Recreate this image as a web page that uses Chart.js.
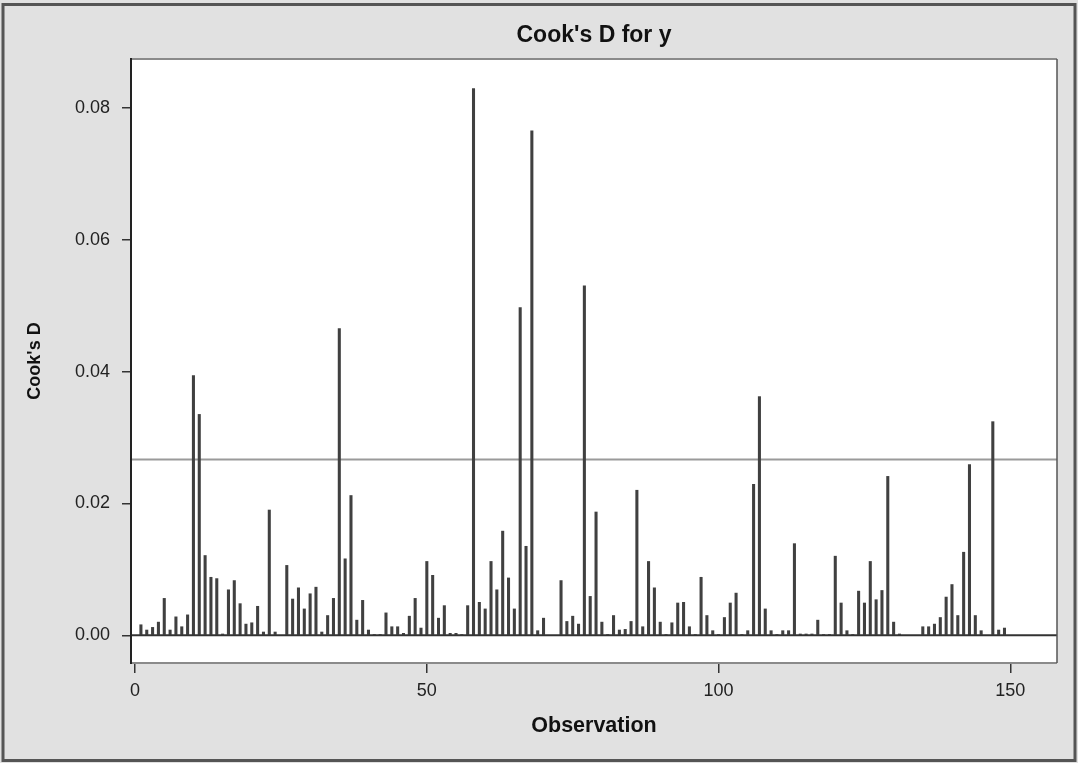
<!DOCTYPE html>
<html>
<head>
<meta charset="utf-8">
<script src="https://cdn.jsdelivr.net/npm/chart.js@4/dist/chart.umd.min.js"></script>
<style>
  html, body { margin: 0; padding: 0; background: #e1e1e1; }
  #wrap { width: 1078px; height: 763px; position: relative; }
  canvas { display: block; }
</style>
</head>
<body>
<div id="wrap"><canvas id="c" width="1078" height="763"></canvas></div>
<script>
// ---- data ----
const chartTitle = "Cook's D for y";
const xTitle = "Observation";
const yTitle = "Cook's D";
const observations = Array.from({length: 150}, (_, i) => i + 1);
const cooksD = [
  0.0016, 0.0008, 0.0012, 0.0020, 0.0056, 0.0008, 0.0028, 0.0013, 0.0031, 0.0394,
  0.0335, 0.0121, 0.0088, 0.0086, 0.0002, 0.0069, 0.0083, 0.0048, 0.0017, 0.0019,
  0.0044, 0.0005, 0.0190, 0.0005, 0.0000, 0.0106, 0.0055, 0.0072, 0.0040, 0.0063,
  0.0073, 0.0005, 0.0030, 0.0056, 0.0465, 0.0116, 0.0212, 0.0023, 0.0053, 0.0008,
  0.0001, 0.0001, 0.0034, 0.0013, 0.0013, 0.0003, 0.0029, 0.0056, 0.0011, 0.0112,
  0.0091, 0.0026, 0.0045, 0.0003, 0.0003, 0.0001, 0.0045, 0.0829, 0.0050, 0.0040,
  0.0112, 0.0069, 0.0158, 0.0087, 0.0040, 0.0497, 0.0135, 0.0765, 0.0007, 0.0026,
  0.0000, 0.0000, 0.0083, 0.0021, 0.0029, 0.0017, 0.0530, 0.0059, 0.0187, 0.0020,
  0.0001, 0.0030, 0.0008, 0.0009, 0.0021, 0.0220, 0.0013, 0.0112, 0.0072, 0.0020,
  0.0001, 0.0019, 0.0049, 0.0050, 0.0013, 0.0001, 0.0088, 0.0030, 0.0007, 0.0001,
  0.0027, 0.0049, 0.0064, 0.0001, 0.0007, 0.0229, 0.0362, 0.0040, 0.0007, 0.0001,
  0.0007, 0.0007, 0.0139, 0.0002, 0.0002, 0.0002, 0.0023, 0.0001, 0.0001, 0.0120,
  0.0049, 0.0007, 0.0001, 0.0067, 0.0049, 0.0112, 0.0054, 0.0068, 0.0241, 0.0020,
  0.0002, 0.0000, 0.0000, 0.0000, 0.0013, 0.0013, 0.0017, 0.0027, 0.0058, 0.0077,
  0.0030, 0.0126, 0.0259, 0.0030, 0.0007, 0.0000, 0.0324, 0.0008, 0.0011, 0.0000
];
const cutoff = 4 / 150;               // reference line 4/n
const xTicks = [0, 50, 100, 150];
const yTicks = [0, 0.02, 0.04, 0.06, 0.08];
const xRange = [-0.7, 158];
const yRange = [-0.0042, 0.0874];

// ---- plugins ----
const frame = {
  id: 'frame',
  beforeDraw(chart) {
    const {ctx, width, height, chartArea: a} = chart;
    ctx.save();
    ctx.fillStyle = '#e1e1e1';
    ctx.fillRect(0, 0, width, height);
    ctx.strokeStyle = '#555';
    ctx.lineWidth = 3;
    ctx.strokeRect(3, 4.5, width - 6, height - 7);
    ctx.fillStyle = '#ffffff';
    ctx.fillRect(a.left, a.top, a.right - a.left, a.bottom - a.top);
    ctx.restore();
  },
  afterDraw(chart) {
    const {ctx, chartArea: a} = chart;
    ctx.save();
    ctx.strokeStyle = '#8a8a8a';
    ctx.lineWidth = 2;
    ctx.beginPath();
    ctx.moveTo(a.left, a.top); ctx.lineTo(a.right, a.top);
    ctx.moveTo(a.left, a.bottom); ctx.lineTo(a.right, a.bottom);
    ctx.stroke();
    ctx.strokeStyle = '#555';
    ctx.lineWidth = 1.5;
    ctx.beginPath();
    ctx.moveTo(a.right, a.top); ctx.lineTo(a.right, a.bottom);
    ctx.stroke();
    ctx.strokeStyle = '#222';
    ctx.lineWidth = 2;
    ctx.beginPath();
    ctx.moveTo(a.left, a.top - 1); ctx.lineTo(a.left, a.bottom + 1);
    ctx.stroke();
    ctx.restore();
  }
};

const fontFamily = "'Liberation Sans', Arial, sans-serif";

new Chart(document.getElementById('c'), {
  type: 'bar',
  data: {
    datasets: [
      {
        type: 'line',
        data: [{x: xRange[0], y: 0}, {x: xRange[1], y: 0}],
        borderColor: '#333',
        borderWidth: 2,
        pointRadius: 0,
        order: 0
      },
      {
        type: 'line',
        data: [{x: xRange[0], y: cutoff}, {x: xRange[1], y: cutoff}],
        borderColor: '#9a9a9a',
        borderWidth: 2,
        pointRadius: 0,
        order: 2
      },
      {
        type: 'bar',
        data: observations.map((o, i) => ({x: o, y: cooksD[i]})),
        backgroundColor: '#404040',
        borderWidth: 0,
        barThickness: 2.4,
        order: 1
      }
    ]
  },
  options: {
    responsive: false,
    animation: false,
    layout: { padding: { left: 0, right: 21, top: 0, bottom: 0 } },
    plugins: {
      legend: { display: false },
      tooltip: { enabled: false },
      title: {
        display: true,
        text: chartTitle,
        fullSize: false,
        color: '#111',
        font: { family: fontFamily, size: 23, weight: 'bold' },
        padding: { top: 22.2, bottom: 9.2 }
      }
    },
    scales: {
      x: {
        type: 'linear',
        min: xRange[0],
        max: xRange[1],
        offset: false,
        afterBuildTicks: s => { s.ticks = xTicks.map(v => ({value: v})); },
        afterFit: s => { s.height = 100; },
        grid: { display: true, offset: false, drawOnChartArea: false, drawTicks: true, tickLength: 10, color: '#333', lineWidth: 1.5 },
        border: { display: false },
        ticks: {
          color: '#222',
          padding: 7,
          maxRotation: 0,
          autoSkip: false,
          font: { family: fontFamily, size: 18 },
          callback: v => String(v)
        },
        title: {
          display: true,
          text: xTitle,
          color: '#111',
          font: { family: fontFamily, size: 21.5, weight: 'bold' },
          padding: { top: 0, bottom: 24 }
        }
      },
      y: {
        min: yRange[0],
        max: yRange[1],
        afterBuildTicks: s => { s.ticks = yTicks.map(v => ({value: v})); },
        afterFit: s => { s.width = 131; },
        grid: { display: true, offset: false, drawOnChartArea: false, drawTicks: true, tickLength: 9, color: '#333', lineWidth: 1.5 },
        border: { display: false },
        ticks: {
          color: '#222',
          padding: 12,
          font: { family: fontFamily, size: 18 },
          callback: v => Number(v).toFixed(2)
        },
        title: {
          display: true,
          text: yTitle,
          color: '#111',
          font: { family: fontFamily, size: 18, weight: 'bold' },
          padding: { top: 24, bottom: 0 }
        }
      }
    }
  },
  plugins: [frame]
});
</script>
</body>
</html>
